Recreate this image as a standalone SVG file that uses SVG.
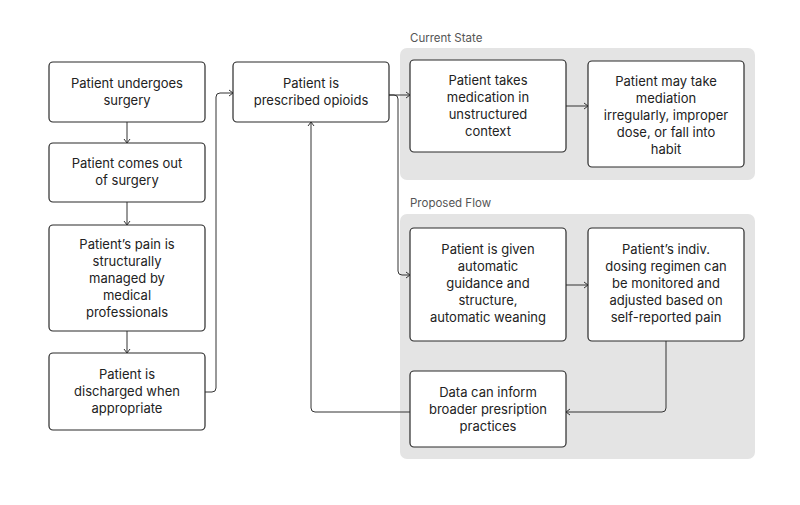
<svg xmlns="http://www.w3.org/2000/svg" width="800" height="505" viewBox="0 0 800 505">
<style>
.box{fill:#fff;stroke:#2b2b2b;stroke-width:1.2}
.grp{fill:#e4e4e4}
.t{font-family:Inter,"Noto Sans",sans-serif;font-size:13px;fill:#222;text-anchor:middle}
.lbl{font-family:Inter,"Noto Sans",sans-serif;font-size:11.5px;fill:#555}
.c{fill:none;stroke:#333;stroke-width:1}
</style>
<defs>
<marker id="ah" markerWidth="8" markerHeight="8" refX="6" refY="4" orient="auto" markerUnits="userSpaceOnUse">
<path d="M2,1 L6,4 L2,7" fill="none" stroke="#333" stroke-width="1"/>
</marker>
</defs>
<rect width="800" height="505" fill="#fff"/>
<g id="current-state">
<rect class="grp" x="400" y="48" width="355" height="132" rx="7"/>
<text class="lbl" x="410" y="42">Current State</text>
</g>
<g id="proposed-flow">
<rect class="grp" x="400" y="214" width="355" height="245" rx="7"/>
<text class="lbl" x="410" y="207">Proposed Flow</text>
</g>
<g id="connectors">
<path class="c" d="M127,122 V143" marker-end="url(#ah)"/>
<path class="c" d="M127,202 V225" marker-end="url(#ah)"/>
<path class="c" d="M127,331 V353" marker-end="url(#ah)"/>
<path class="c" d="M205,392 H212 Q216,392 216,388 V97 Q216,93 220,93 H233" marker-end="url(#ah)"/>
<path class="c" d="M389,95 H410" marker-end="url(#ah)"/>
<path class="c" d="M389,95 H394 Q398,95 398,99 V271 Q398,275 402,275 H410" marker-end="url(#ah)"/>
<path class="c" d="M566,106 H588" marker-end="url(#ah)"/>
<path class="c" d="M566,285 H588" marker-end="url(#ah)"/>
<path class="c" d="M666,341 V408 Q666,412 662,412 H566" marker-end="url(#ah)"/>
<path class="c" d="M410,412 H315 Q311,412 311,408 V122" marker-end="url(#ah)"/>
</g>
<g id="n1">
<rect class="box" x="49" y="62" width="156" height="60" rx="4"/>
<text class="t" x="127" y="88">Patient undergoes</text>
<text class="t" x="127" y="105">surgery</text>
</g>
<g id="n2">
<rect class="box" x="49" y="143" width="156" height="59" rx="4"/>
<text class="t" x="127" y="168">Patient comes out</text>
<text class="t" x="127" y="185">of surgery</text>
</g>
<g id="n3">
<rect class="box" x="49" y="225" width="156" height="106" rx="4"/>
<text class="t" x="127" y="249">Patient’s pain is</text>
<text class="t" x="127" y="266">structurally</text>
<text class="t" x="127" y="283">managed by</text>
<text class="t" x="127" y="300">medical</text>
<text class="t" x="127" y="317">professionals</text>
</g>
<g id="n4">
<rect class="box" x="49" y="353" width="156" height="77" rx="4"/>
<text class="t" x="127" y="379">Patient is</text>
<text class="t" x="127" y="396">discharged when</text>
<text class="t" x="127" y="413">appropriate</text>
</g>
<g id="n5">
<rect class="box" x="233" y="62" width="156" height="60" rx="4"/>
<text class="t" x="311" y="88">Patient is</text>
<text class="t" x="311" y="105">prescribed opioids</text>
</g>
<g id="n6">
<rect class="box" x="410" y="60" width="156" height="92" rx="4"/>
<text class="t" x="488" y="85">Patient takes</text>
<text class="t" x="488" y="102">medication in</text>
<text class="t" x="488" y="119">unstructured</text>
<text class="t" x="488" y="136">context</text>
</g>
<g id="n7">
<rect class="box" x="588" y="61" width="156" height="106" rx="4"/>
<text class="t" x="666" y="86">Patient may take</text>
<text class="t" x="666" y="103">mediation</text>
<text class="t" x="666" y="120">irregularly, improper</text>
<text class="t" x="666" y="137">dose, or fall into</text>
<text class="t" x="666" y="154">habit</text>
</g>
<g id="n8">
<rect class="box" x="410" y="228" width="156" height="113" rx="4"/>
<text class="t" x="488" y="254">Patient is given</text>
<text class="t" x="488" y="271">automatic</text>
<text class="t" x="488" y="288">guidance and</text>
<text class="t" x="488" y="305">structure,</text>
<text class="t" x="488" y="322">automatic weaning</text>
</g>
<g id="n9">
<rect class="box" x="588" y="228" width="156" height="113" rx="4"/>
<text class="t" x="666" y="254">Patient’s indiv.</text>
<text class="t" x="666" y="271">dosing regimen can</text>
<text class="t" x="666" y="288">be monitored and</text>
<text class="t" x="666" y="305">adjusted based on</text>
<text class="t" x="666" y="322">self-reported pain</text>
</g>
<g id="n10">
<rect class="box" x="410" y="371" width="156" height="76" rx="4"/>
<text class="t" x="488" y="397">Data can inform</text>
<text class="t" x="488" y="414">broader presription</text>
<text class="t" x="488" y="431">practices</text>
</g>
</svg>
